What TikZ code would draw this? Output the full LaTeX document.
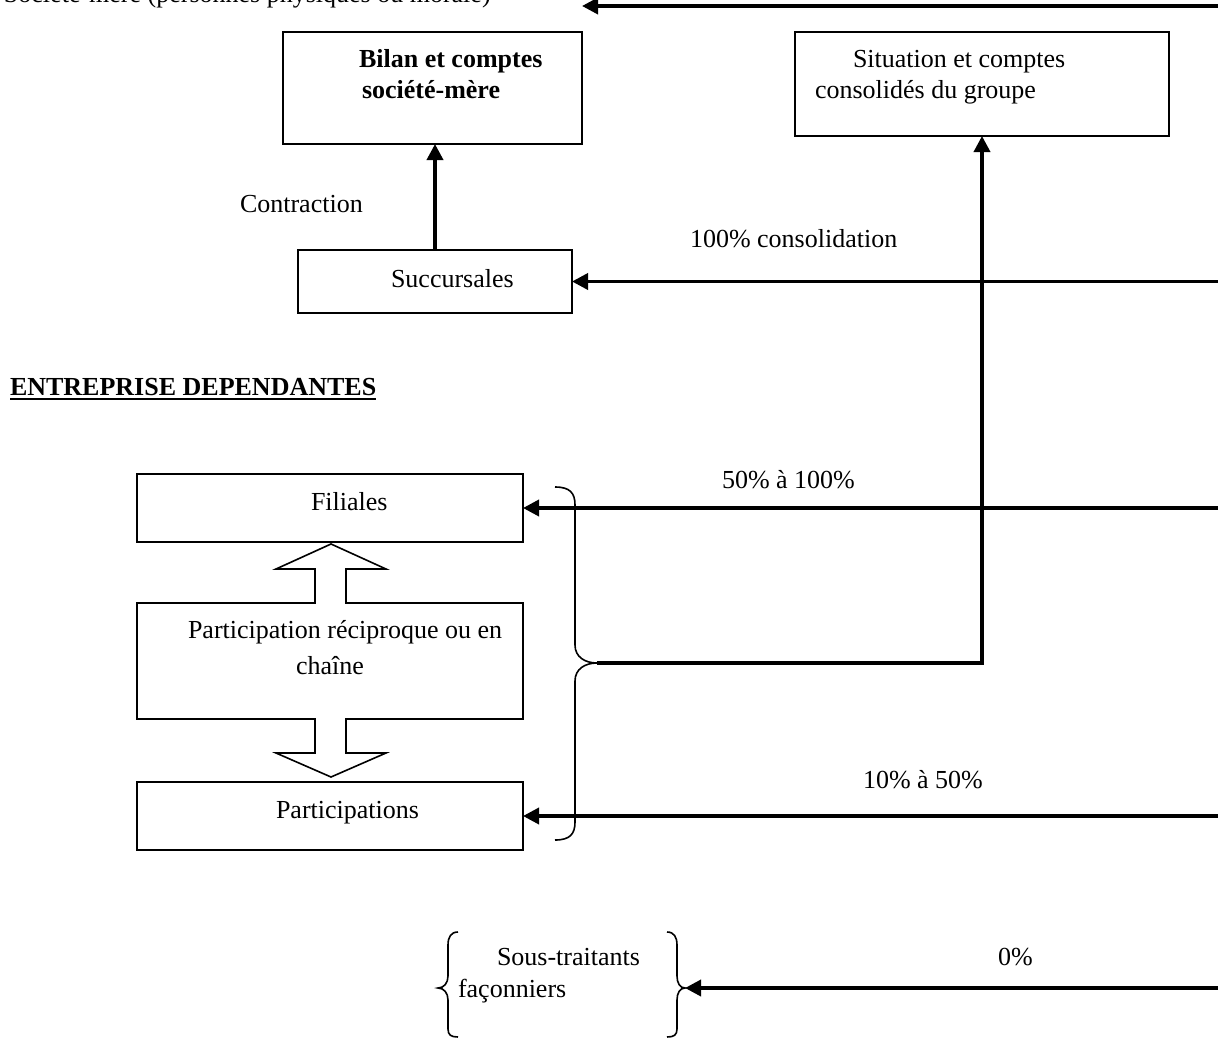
\documentclass[tikz,border=0pt]{standalone}
\usepackage{fontspec}
\setmainfont{Liberation Serif}
\usetikzlibrary{arrows.meta}
\begin{document}
\begin{tikzpicture}[x=1pt,y=-1pt,
  every node/.style={inner sep=0pt, outer sep=0pt, font=\fontsize{26}{31}\selectfont},
  box/.style={draw, line width=1.8pt, anchor=north west},
  lbl/.style={anchor=base west},
  arr/.style={line width=3.6pt, -{Triangle[length=16pt,width=16pt]}},
  thinline/.style={line width=1.6pt},
]
\useasboundingbox (0,0) rectangle (1218,1041);
\clip (0,0) rectangle (1218,1041);
\fill[white] (0,0) rectangle (1218,1041);

% heading line at the very top, partly above the page edge
\node[lbl] (mere) at (4,2.5) {Société-mère (personnes physiques ou morale)};
\coordinate (topEnd) at (582,6);
\coordinate (topStart) at (1218,6);
\draw[arr] (topStart) -- (topEnd);

% parent company and group accounts
\node[box, minimum width=299pt, minimum height=112pt] (bilan) at (283,32) {};
\node[lbl, font=\fontsize{26}{31}\selectfont\bfseries] (bilanA) at (359,67) {Bilan et comptes};
\node[lbl, font=\fontsize{26}{31}\selectfont\bfseries] (bilanB) at (362,98) {société-mère};

\node[box, minimum width=374pt, minimum height=104pt] (situ) at (795,32) {};
\node[lbl] (situA) at (853,67) {Situation et comptes};
\node[lbl] (situB) at (815,98) {consolidés du groupe};

% branches
\node[lbl] (contr) at (240,212) {Contraction};
\node[box, minimum width=274pt, minimum height=63pt] (succ) at (298,250) {};
\node[lbl] (succT) at (391,287) {Succursales};
\draw[arr] (succ.north) -- (succ.north |- bilan.south);
\node[lbl] (cons) at (690,247) {100\% consolidation};
\coordinate (succStart) at (1218,281.5);
\draw[arr] (succStart) -- (succ.east);

% dependent companies
\node[lbl, font=\fontsize{26}{31}\selectfont\bfseries] (ent) at (10,395) {ENTREPRISE DEPENDANTES};
\draw[line width=2pt] ([yshift=-4pt]ent.base west) -- ([yshift=-4pt]ent.base east);

\node[box, minimum width=386pt, minimum height=68pt] (fil) at (137,474) {};
\node[lbl] (filT) at (311,510) {Filiales};
\node[lbl] (p50) at (722,488) {50\% à 100\%};
\coordinate (filStart) at (1218,508);
\draw[arr] (filStart) -- (fil.east);

% mutual holdings box with its double block arrow
\draw[thinline]
  (137,603) -- (315,603) -- (315,569) -- (276,569) -- (331,544) -- (386,569)
  -- (346,569) -- (346,603) -- (523,603) -- (523,719) -- (346,719) -- (346,753)
  -- (386,753) -- (331,777) -- (276,753) -- (315,753) -- (315,719) -- (137,719) -- cycle;
\node[lbl] (recA) at (188,638) {Participation réciproque ou en};
\node[lbl] (recB) at (296,674) {chaîne};

\node[box, minimum width=386pt, minimum height=68pt] (part) at (137,782) {};
\node[lbl] (partT) at (276,818) {Participations};
\node[lbl] (p10) at (863,788) {10\% à 50\%};
\coordinate (partStart) at (1218,816);
\draw[arr] (partStart) -- (part.east);

% brace grouping subsidiaries and holdings
\coordinate (bt) at (597,663);
\draw[thinline] (555,487) .. controls (570,487) and (575,493) .. (575,505) -- (575,645)
  .. controls (575,657) and (585,663) .. (bt)
  .. controls (585,663) and (575,669) .. (575,681) -- (575,822)
  .. controls (575,834) and (570,840) .. (555,840);
\draw[arr] (bt) -| (situ.south);

% subcontractors
\draw[thinline] (458,932) .. controls (451,932) and (448,937) .. (448,945) -- (448,976)
  .. controls (448,983) and (444,988) .. (438,988)
  .. controls (444,988) and (448,993) .. (448,1000) -- (448,1029)
  .. controls (448,1035) and (451,1037) .. (458,1037);
\coordinate (rbt) at (685,988);
\draw[thinline] (667,932) .. controls (674,932) and (677,937) .. (677,945) -- (677,976)
  .. controls (677,983) and (680,988) .. (rbt)
  .. controls (680,988) and (677,993) .. (677,1000) -- (677,1029)
  .. controls (677,1035) and (674,1037) .. (667,1037);
\node[lbl] (stA) at (497,965) {Sous-traitants};
\node[lbl] (stB) at (458,997) {façonniers};
\node[lbl] (p0) at (998,965) {0\%};
\coordinate (stStart) at (1218,988);
\draw[arr] (stStart) -- (rbt);
\end{tikzpicture}
\end{document}
